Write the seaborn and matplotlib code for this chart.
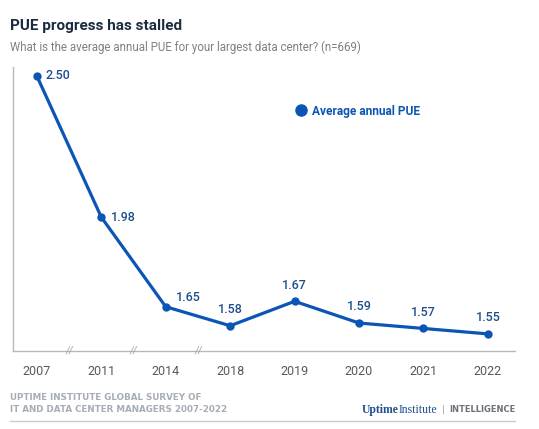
import matplotlib
matplotlib.use("Agg")
import matplotlib.pyplot as plt
import seaborn as sns
import pandas as pd
from matplotlib.lines import Line2D

years = ["2007", "2011", "2014", "2018", "2019", "2020", "2021", "2022"]
pue = [2.50, 1.98, 1.65, 1.58, 1.67, 1.59, 1.57, 1.55]
series_name = "Average annual PUE"

title = "PUE progress has stalled"
subtitle = "What is the average annual PUE for your largest data center? (n=669)"
source_lines = ["UPTIME INSTITUTE GLOBAL SURVEY OF", "IT AND DATA CENTER MANAGERS 2007-2022"]

sns.set_style("white")
plt.rcParams["font.family"] = ["Roboto", "DejaVu Sans"]

LINE = "#0b56b4"
LABEL = "#1d4f8c"
GRAY = "#b5b8bd"

df = pd.DataFrame({"year": years, "pue": pue})

fig = plt.figure(figsize=(5.39, 4.29), dpi=100)
ax = fig.add_axes([13 / 539, 1 - 351 / 429, (515 - 13) / 539, (351 - 67) / 429])

sns.lineplot(data=df, x="year", y="pue", ax=ax, color=LINE, linewidth=2.3,
             marker="o", markersize=6, markeredgewidth=0, sort=False)

ax.set_ylim(1.487, 2.533)
ax.set_xlim(-0.37, len(years) - 1 + 0.42)
ax.set_xlabel("")
ax.set_ylabel("")
ax.set_yticks([])
ax.set_xticks(range(len(years)))
ax.set_xticklabels(years, color="#555a60", fontsize=9)
ax.tick_params(axis="x", length=6, width=0.8, color=GRAY, direction="out", pad=4)
for s in ["top", "right"]:
    ax.spines[s].set_visible(False)
for s in ["left", "bottom"]:
    ax.spines[s].set_color(GRAY)
    ax.spines[s].set_linewidth(1.0)

# axis break marks
for bx in [0.5, 1.5, 2.5]:
    ax.text(bx, 0, "//", transform=ax.get_xaxis_transform(), ha="center", va="center",
            fontsize=7, color="#9aa0a6", style="italic")

# value labels
offsets = [(6, 0, "left", "center"), (7, 0, "left", "center"), (7, 7, "left", "center"),
           (0, 7, "center", "bottom"), (0, 7, "center", "bottom"), (0, 7, "center", "bottom"),
           (0, 7, "center", "bottom"), (0, 7, "center", "bottom")]
for i, (v, (dx, dy, ha, va)) in enumerate(zip(pue, offsets)):
    ax.annotate(f"{v:.2f}", (i, v), xytext=(dx, dy), textcoords="offset points",
                ha=ha, va=va, fontsize=9, color=LABEL, fontweight="medium")

handle = Line2D([], [], color=LINE, marker="o", linestyle="none", markersize=8)
ax.legend([handle], [series_name], loc="center left", bbox_to_anchor=(0.553, 0.845),
          frameon=False, handletextpad=0.35, handlelength=1.0, borderaxespad=0,
          labelcolor=LINE, prop={"weight": "bold", "size": 8.6})

fig.text(10 / 539, 1 - 26 / 429, title, fontsize=11, fontweight="bold", color="#1b2b40",
         va="center", ha="left")
fig.text(10 / 539, 1 - 47 / 429, subtitle, fontsize=8.3, color="#7d8187",
         va="center", ha="left")
fig.text(10 / 539, 1 - 398 / 429, source_lines[0], fontsize=6.3, fontweight="bold",
         family="DejaVu Sans", color="#a7adb5", va="center", ha="left")
fig.text(10 / 539, 1 - 410 / 429, source_lines[1], fontsize=6.3, fontweight="bold",
         family="DejaVu Sans", color="#a7adb5", va="center", ha="left")

t1 = fig.text(362 / 539, 1 - 410 / 429, "Uptime", fontsize=8.5, fontweight="bold",
              family="Liberation Serif", color="#1d4f8c", va="center", ha="left")
fig.canvas.draw()
bb = t1.get_window_extent()
fig.text(bb.x1 / fig.bbox.width, 1 - 410 / 429, "Institute", fontsize=8.5,
         family="Liberation Serif", color="#1d4f8c", va="center", ha="left")
fig.text(442 / 539, 1 - 410 / 429, "|", fontsize=8, color="#9aa0a6", va="center", ha="left")
fig.text(449 / 539, 1 - 410 / 429, "INTELLIGENCE", fontsize=6.0, fontweight="bold",
         family="DejaVu Sans", color="#6c7178", va="center", ha="left")

fig.add_artist(Line2D([10 / 539, 515 / 539], [1 - 421 / 429, 1 - 421 / 429],
                      transform=fig.transFigure, color="#c8cbcf", linewidth=1.0))

fig.savefig("out.png", dpi=100, facecolor="white")
